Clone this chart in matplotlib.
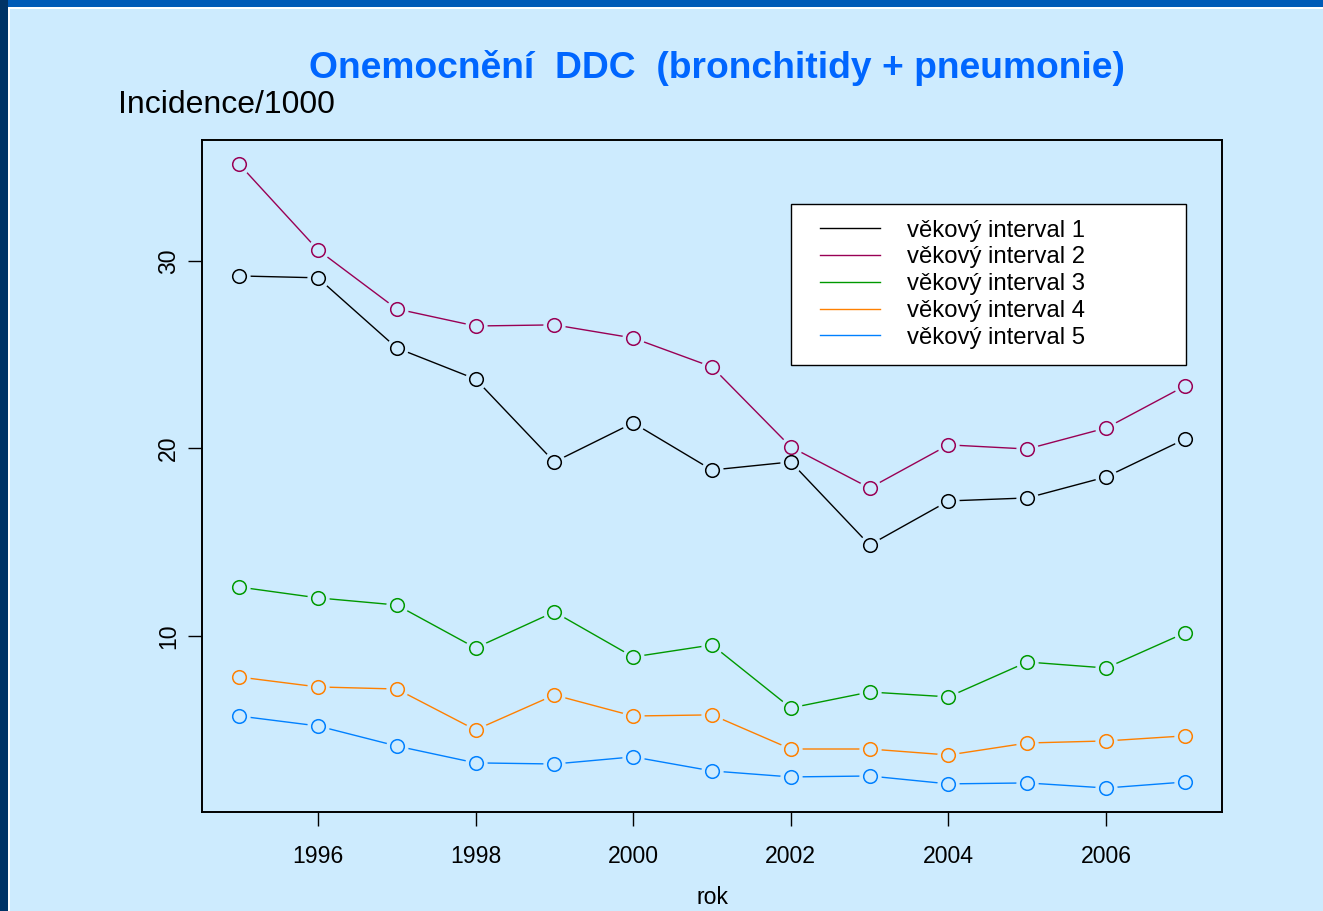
import matplotlib

matplotlib.use("Agg")
import matplotlib.pyplot as plt
from matplotlib.patches import Rectangle

plt.rcParams["font.family"] = ["Liberation Sans", "DejaVu Sans"]

years = list(range(1995, 2008))
interval_1 = [29.2, 29.1, 25.36, 23.7, 19.28, 21.36, 18.85, 19.28, 14.85, 17.2, 17.36, 18.48, 20.5]
interval_2 = [35.17, 30.59, 27.44, 26.53, 26.59, 25.89, 24.35, 20.08, 17.89, 20.19, 19.97, 21.09, 23.33]
interval_3 = [12.61, 12.03, 11.65, 9.36, 11.28, 8.88, 9.52, 6.16, 7.01, 6.75, 8.61, 8.29, 10.16]
interval_4 = [7.81, 7.28, 7.17, 4.99, 6.85, 5.73, 5.79, 3.97, 3.97, 3.65, 4.29, 4.4, 4.67]
interval_5 = [5.73, 5.2, 4.13, 3.23, 3.17, 3.55, 2.8, 2.48, 2.53, 2.11, 2.16, 1.89, 2.21]

series = [interval_1, interval_2, interval_3, interval_4, interval_5]
labels = ["věkový interval 1", "věkový interval 2", "věkový interval 3",
          "věkový interval 4", "věkový interval 5"]
colors = ["#000000", "#990055", "#009900", "#FF8000", "#0080FF"]

BG = "#CDEBFE"
W, H = 1323, 911

fig = plt.figure(figsize=(W / 100, H / 100), dpi=100, facecolor=BG)

# slide frame: blue strip on top and left, thin white edge
fig.add_artist(Rectangle((0, 1 - 7 / H), 1, 7 / H, transform=fig.transFigure,
                         facecolor="#005BB7", edgecolor="none", zorder=0))
fig.add_artist(Rectangle((0, 0), 8 / W, 1, transform=fig.transFigure,
                         facecolor="#003366", edgecolor="none", zorder=0))
fig.add_artist(Rectangle((8 / W, 0), 1.5 / W, 1 - 7 / H, transform=fig.transFigure,
                         facecolor="white", edgecolor="none", zorder=0))
fig.add_artist(Rectangle((8 / W, 1 - 8.5 / H), 1, 1.5 / H, transform=fig.transFigure,
                         facecolor="white", edgecolor="none", zorder=0))

ax = fig.add_axes([202 / W, 1 - 812 / H, 1020 / W, 672 / H])
ax.set_facecolor(BG)

for vals, lab, col in zip(series, labels, colors):
    ax.plot(years, vals, color=col, linewidth=1.0, label=lab, zorder=2)
    ax.plot(years, vals, linestyle="none", marker="o", markersize=15,
            markerfacecolor=BG, markeredgecolor=BG, zorder=3)
    ax.plot(years, vals, linestyle="none", marker="o", markersize=9.8,
            markerfacecolor="none", markeredgecolor=col, markeredgewidth=1.1, zorder=4)

ax.set_xlim(1994.53, 2007.47)
ax.set_ylim(0.61, 36.45)
ax.set_xticks(range(1996, 2007, 2))
ax.set_yticks([10, 20, 30])
ax.tick_params(axis="both", direction="out", length=10, width=1, labelsize=16.6)
ax.tick_params(axis="x", pad=14)
ax.tick_params(axis="y", pad=6)
for t in ax.get_yticklabels():
    t.set_rotation(90)
    t.set_va("center")
for s in ax.spines.values():
    s.set_linewidth(1.4)

ax.set_xlabel("rok", fontsize=16.6, labelpad=13)

# legend box drawn separately so the wide right margin matches
ax.add_patch(Rectangle(((791 - 202) / 1020, (812 - 365) / 672), 395 / 1020, 161 / 672,
                       transform=ax.transAxes, facecolor="white", edgecolor="black",
                       linewidth=1.0, zorder=5))
leg = ax.legend(loc="upper left", bbox_to_anchor=((803.3 - 202) / 1020, (812 - 203) / 672),
                fontsize=17.2, frameon=False, handlelength=2.5, handletextpad=1.15,
                labelspacing=0.2, borderpad=0.7, borderaxespad=0)
leg.set_zorder(6)

fig.text(717 / W, 1 - 68 / H, "Onemocnění  DDC  (bronchitidy + pneumonie)",
         ha="center", va="center", fontsize=26.8, fontweight="bold", color="#0066FF")
fig.text(118 / W, 1 - 105 / H, "Incidence/1000", ha="left", va="center",
         fontsize=23, color="black")

fig.savefig("out.png", dpi=100, facecolor=BG)
